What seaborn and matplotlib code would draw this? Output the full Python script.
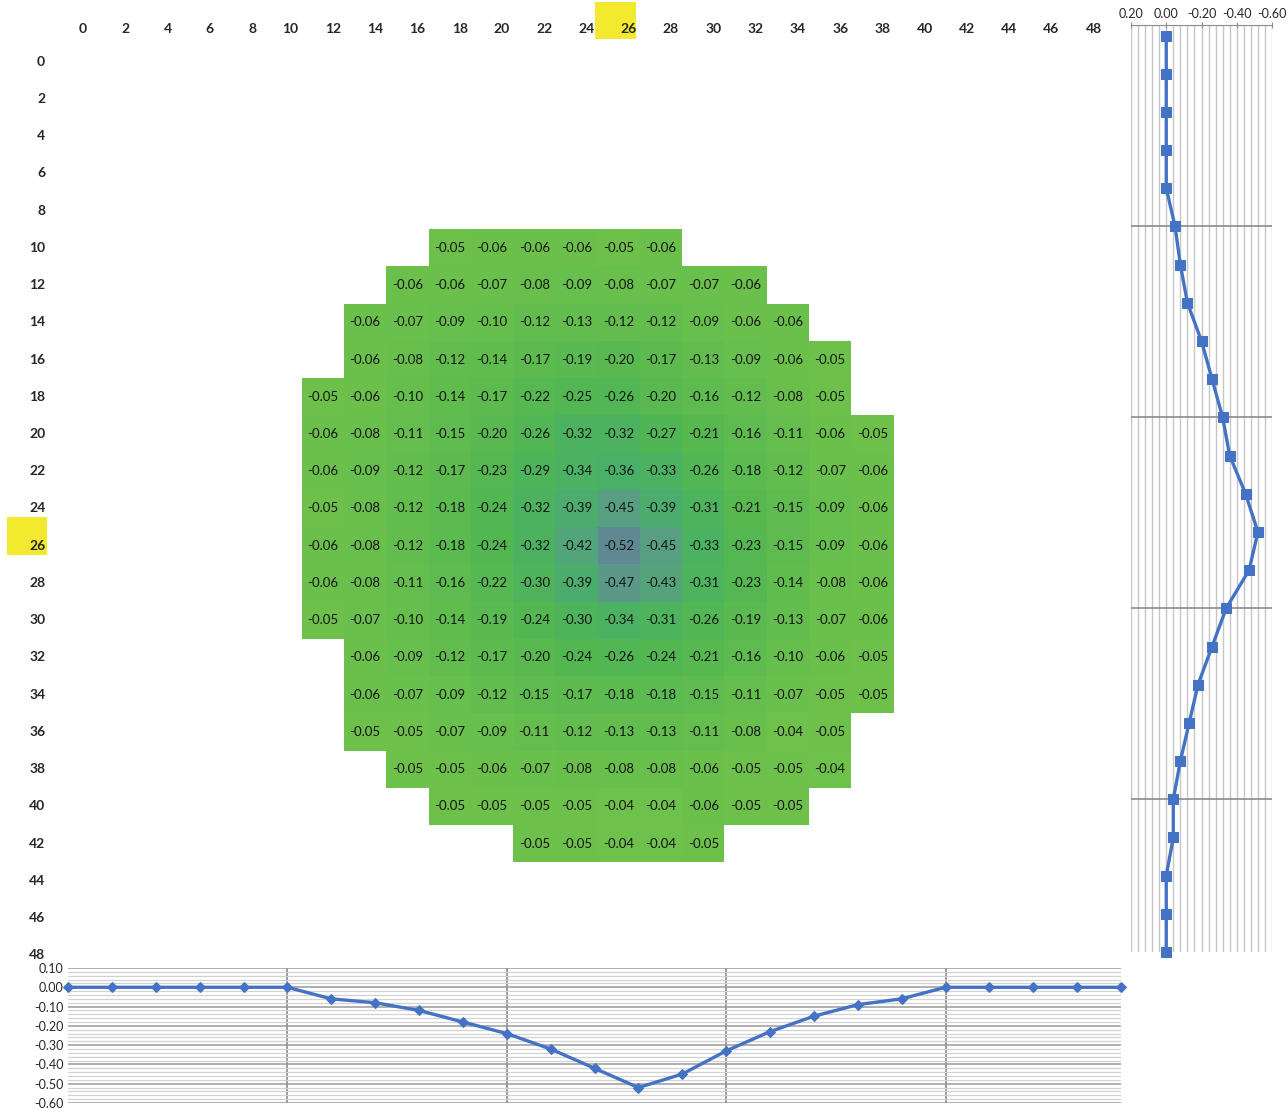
import numpy as np
import pandas as pd
import seaborn as sns
import matplotlib
matplotlib.use("Agg")
import matplotlib.pyplot as plt
from matplotlib.colors import LinearSegmentedColormap
from matplotlib.patches import Rectangle
from matplotlib.transforms import ScaledTranslation
from matplotlib.ticker import MultipleLocator, FixedLocator

# ---------------- data ----------------
grid_positions = list(range(0, 50, 2))          # 0..48 step 2 (rows and columns)

row_10 = [-0.05, -0.06, -0.06, -0.06, -0.05, -0.06]
row_12 = [-0.06, -0.06, -0.07, -0.08, -0.09, -0.08, -0.07, -0.07, -0.06]
row_14 = [-0.06, -0.07, -0.09, -0.10, -0.12, -0.13, -0.12, -0.12, -0.09, -0.06, -0.06]
row_16 = [-0.06, -0.08, -0.12, -0.14, -0.17, -0.19, -0.20, -0.17, -0.13, -0.09, -0.06, -0.05]
row_18 = [-0.05, -0.06, -0.10, -0.14, -0.17, -0.22, -0.25, -0.26, -0.20, -0.16, -0.12, -0.08, -0.05]
row_20 = [-0.06, -0.08, -0.11, -0.15, -0.20, -0.26, -0.32, -0.32, -0.27, -0.21, -0.16, -0.11, -0.06, -0.05]
row_22 = [-0.06, -0.09, -0.12, -0.17, -0.23, -0.29, -0.34, -0.36, -0.33, -0.26, -0.18, -0.12, -0.07, -0.06]
row_24 = [-0.05, -0.08, -0.12, -0.18, -0.24, -0.32, -0.39, -0.45, -0.39, -0.31, -0.21, -0.15, -0.09, -0.06]
row_26 = [-0.06, -0.08, -0.12, -0.18, -0.24, -0.32, -0.42, -0.52, -0.45, -0.33, -0.23, -0.15, -0.09, -0.06]
row_28 = [-0.06, -0.08, -0.11, -0.16, -0.22, -0.30, -0.39, -0.47, -0.43, -0.31, -0.23, -0.14, -0.08, -0.06]
row_30 = [-0.05, -0.07, -0.10, -0.14, -0.19, -0.24, -0.30, -0.34, -0.31, -0.26, -0.19, -0.13, -0.07, -0.06]
row_32 = [-0.06, -0.09, -0.12, -0.17, -0.20, -0.24, -0.26, -0.24, -0.21, -0.16, -0.10, -0.06, -0.05]
row_34 = [-0.06, -0.07, -0.09, -0.12, -0.15, -0.17, -0.18, -0.18, -0.15, -0.11, -0.07, -0.05, -0.05]
row_36 = [-0.05, -0.05, -0.07, -0.09, -0.11, -0.12, -0.13, -0.13, -0.11, -0.08, -0.04, -0.05]
row_38 = [-0.05, -0.05, -0.06, -0.07, -0.08, -0.08, -0.08, -0.06, -0.05, -0.05, -0.04]
row_40 = [-0.05, -0.05, -0.05, -0.05, -0.04, -0.04, -0.06, -0.05, -0.05]
row_42 = [-0.05, -0.05, -0.04, -0.04, -0.05]

measured_rows = [10, 12, 14, 16, 18, 20, 22, 24, 26, 28, 30, 32, 34, 36, 38, 40, 42]
row_first_col = [18, 16, 14, 14, 12, 12, 12, 12, 12, 12, 12, 14, 14, 14, 16, 18, 22]
row_data = [row_10, row_12, row_14, row_16, row_18, row_20, row_22, row_24, row_26,
            row_28, row_30, row_32, row_34, row_36, row_38, row_40, row_42]

# profile through row 26 (bottom chart) and column 26 (right chart)
bottom_profile = [0.00, 0.00, 0.00, 0.00, 0.00, 0.00, -0.06, -0.08, -0.12, -0.18, -0.24, -0.32, -0.42,
                  -0.52, -0.45, -0.33, -0.23, -0.15, -0.09, -0.06, 0.00, 0.00, 0.00, 0.00, 0.00]
right_profile = [0.00, 0.00, 0.00, 0.00, 0.00, -0.05, -0.08, -0.12, -0.20, -0.26, -0.32, -0.36, -0.45,
                 -0.52, -0.47, -0.34, -0.26, -0.18, -0.13, -0.08, -0.04, -0.04, 0.00, 0.00, 0.00]

# ---------------- build grid table ----------------
grid = pd.DataFrame(np.nan, index=grid_positions, columns=grid_positions)
for r, c0, vals in zip(measured_rows, row_first_col, row_data):
    cols = list(range(c0, c0 + 2 * len(vals), 2))
    grid.loc[r, cols] = vals

# ---------------- figure ----------------
W, H = 1287, 1113
sns.set_style("white")
plt.rcParams['font.family'] = ['Lato', 'DejaVu Sans']
fig = plt.figure(figsize=(W / 100, H / 100), dpi=100)

def px_axes(l, t, r, b):
    return fig.add_axes([l / W, 1 - b / H, (r - l) / W, (b - t) / H])

blue = '#4472C4'
cmap = LinearSegmentedColormap.from_list(
    'gscale', [(0.0, '#5f8892'), (0.13, '#5a9c84'), (0.3, '#48af6a'),
               (0.55, '#51b652'), (1.0, '#6ec14b')])

# heatmap
ax = px_axes(48, 43, 1105, 974)
ax.set_facecolor('none')
sns.heatmap(grid, ax=ax, cmap=cmap, vmin=-0.52, vmax=-0.04, cbar=False,
            annot=True, fmt='.2f', annot_kws={'fontsize': 9.5, 'color': '#141414'},
            xticklabels=grid_positions, yticklabels=grid_positions)

# yellow highlight boxes behind the "26" labels
for (x0, y0, w, h) in [(595, 2, 41, 37), (7, 517, 40, 38)]:
    ax.add_patch(Rectangle((x0 / W, 1 - (y0 + h) / H), w / W, h / H, transform=fig.transFigure,
                           facecolor='#f3e92f', edgecolor='none', zorder=0, clip_on=False))

ax.xaxis.tick_top()
ax.tick_params(axis='both', length=0)
ax.tick_params(axis='x', pad=6)
ax.tick_params(axis='y', pad=2)
shift = ScaledTranslation(0.18, 0, fig.dpi_scale_trans)
for lab in ax.get_xticklabels():
    lab.set_fontweight('bold')
    lab.set_fontsize(10)
    lab.set_rotation(0)
    lab.set_ha('right')
    lab.set_transform(lab.get_transform() + shift)
for lab in ax.get_yticklabels():
    lab.set_fontweight('bold')
    lab.set_fontsize(10)
    lab.set_rotation(0)
    lab.set_ha('right')
ax.set_xlabel('')
ax.set_ylabel('')
for s in ax.spines.values():
    s.set_visible(False)

# right profile (column 26)
axr = px_axes(1131, 25, 1272, 952)
axr.set_facecolor('white')
sns.lineplot(x=right_profile, y=grid_positions, ax=axr, sort=False, estimator=None,
             color=blue, linewidth=2.4, marker='s', markersize=6.5,
             markeredgecolor=blue, markerfacecolor=blue, zorder=5, clip_on=False)
axr.set_xlim(0.2, -0.6)
axr.set_ylim(48, -0.55)
axr.xaxis.tick_top()
axr.xaxis.set_major_locator(FixedLocator([0.2, 0.0, -0.2, -0.4, -0.6]))
axr.xaxis.set_minor_locator(MultipleLocator(0.04))
axr.set_xticklabels(['0.20', '0.00', '-0.20', '-0.40', '-0.60'])
axr.yaxis.set_major_locator(FixedLocator([10, 20, 30, 40]))
axr.set_yticklabels([])
axr.tick_params(axis='x', which='major', length=5, direction='inout', color='#8c8c8c',
                labelsize=9, pad=1, top=True, bottom=False)
axr.tick_params(axis='x', which='minor', length=0, top=True, bottom=False)
axr.tick_params(axis='y', length=0)
axr.grid(True, axis='x', which='both', color='#c6c6c6', linewidth=1.0)
axr.grid(True, axis='y', which='major', color='#8a8a8a', linewidth=1.2)
for k, s in axr.spines.items():
    s.set_visible(k == 'top')
axr.spines['top'].set_color('#8c8c8c')
axr.set_axisbelow(True)

# bottom profile (row 26)
axb = px_axes(68, 968, 1121, 1103)
axb.set_facecolor('white')
sns.lineplot(x=grid_positions, y=bottom_profile, ax=axb, sort=False, estimator=None,
             color=blue, linewidth=2.4, marker='D', markersize=5.5,
             markeredgecolor=blue, markerfacecolor=blue, zorder=5, clip_on=False)
axb.set_xlim(0, 48)
axb.set_ylim(-0.6, 0.1)
yt = [0.10, 0.00, -0.10, -0.20, -0.30, -0.40, -0.50, -0.60]
axb.yaxis.set_major_locator(FixedLocator(yt))
axb.set_yticklabels([f'{v:.2f}' for v in yt])
axb.yaxis.set_minor_locator(MultipleLocator(0.02))
axb.xaxis.set_major_locator(FixedLocator([10, 20, 30, 40]))
axb.set_xticklabels([])
axb.tick_params(axis='y', which='both', length=0, labelsize=9, pad=3)
axb.tick_params(axis='x', length=0)
axb.grid(True, axis='y', which='minor', color='#d2d2d2', linewidth=0.9)
axb.grid(True, axis='y', which='major', color='#9a9a9a', linewidth=1.1)
axb.grid(True, axis='x', which='major', color='#7d7d7d', linewidth=1.1)
for s in axb.spines.values():
    s.set_visible(False)
axb.set_axisbelow(True)

fig.savefig('out.png', dpi=100)
